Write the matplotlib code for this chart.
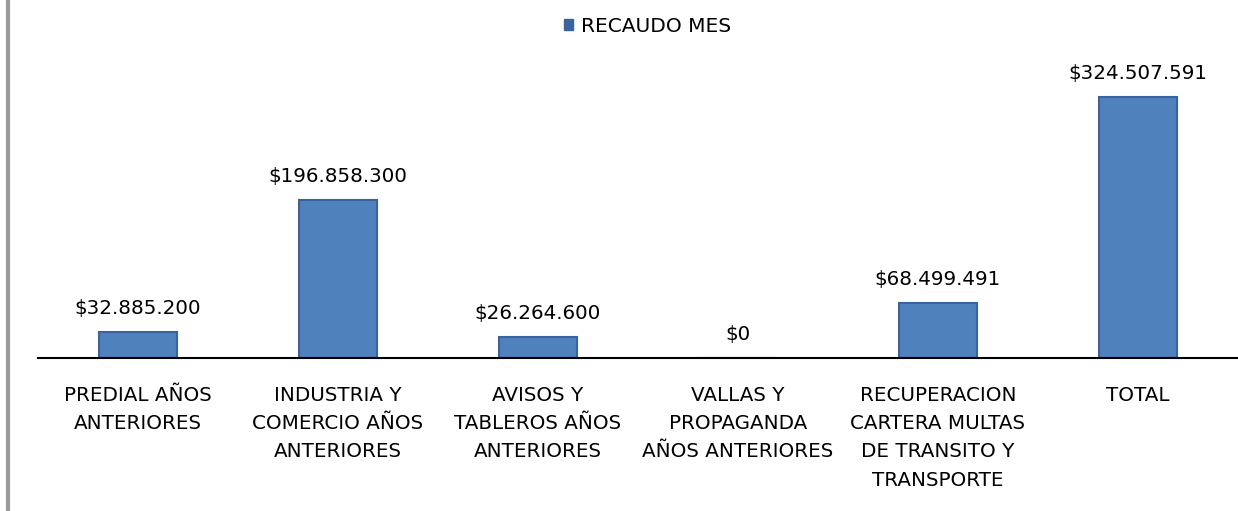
import matplotlib
matplotlib.use("Agg")
import matplotlib.pyplot as plt
from matplotlib.lines import Line2D
from matplotlib.patches import Patch

categories = ["PREDIAL AÑOS\nANTERIORES",
              "INDUSTRIA Y\nCOMERCIO AÑOS\nANTERIORES",
              "AVISOS Y\nTABLEROS AÑOS\nANTERIORES",
              "VALLAS Y\nPROPAGANDA\nAÑOS ANTERIORES",
              "RECUPERACION\nCARTERA MULTAS\nDE TRANSITO Y\nTRANSPORTE",
              "TOTAL"]
recaudo = [32885200, 196858300, 26264600, 0, 68499491, 324507591]

plt.rcParams["font.family"] = ["DejaVu Sans"]

fig = plt.figure(figsize=(12.38, 5.11), dpi=100)
ax = fig.add_axes([38 / 1238, 1 - 358 / 511, 1 - 38 / 1238, 358 / 511])

x = range(len(categories))
bars = ax.bar(x, recaudo, width=0.39, color="#4F81BD", edgecolor="#3A64A0", linewidth=1.5)

# value labels above each bar
for b, v in zip(bars, recaudo):
    ax.annotate("$" + f"{v:,}".replace(",", "."),
                (b.get_x() + b.get_width() / 2, v), xytext=(0, 10),
                textcoords="offset points", ha="center", va="bottom", fontsize=14.3)

ax.set_xlim(-0.5, 5.5)
ax.set_ylim(0, 445e6)
ax.set_xticks(list(x))
ax.set_xticklabels(categories, fontsize=14.3, linespacing=1.62, va="top")
ax.tick_params(axis="x", length=0, pad=20)
ax.set_yticks([])
for s in ["top", "right", "left"]:
    ax.spines[s].set_visible(False)
ax.spines["bottom"].set_linewidth(1.5)

fig.legend(handles=[Patch(color="#3A64A0", label="RECAUDO MES")],
           loc="center", bbox_to_anchor=(0.523, 1 - 26 / 511), frameon=False,
           fontsize=14.5, handlelength=0.45, handleheight=0.45, handletextpad=0.4)

# gray frame edge on the left
fig.add_artist(Line2D([8 / 1238, 8 / 1238], [0, 1], color="#9a9a9a", lw=3))

fig.savefig("out.png", dpi=100)
